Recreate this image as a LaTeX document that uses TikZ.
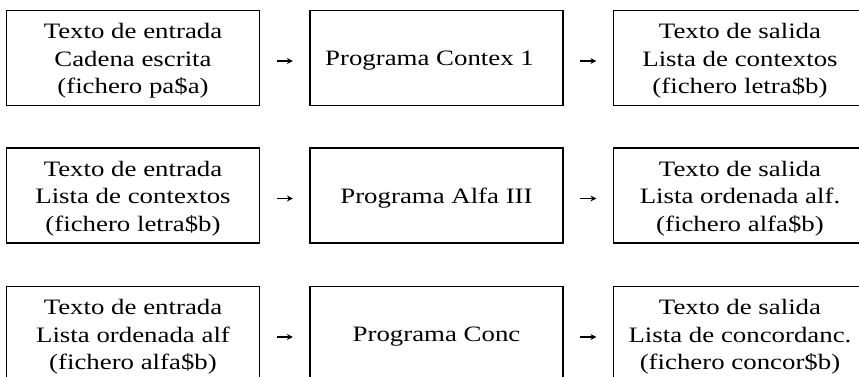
\documentclass[tikz,border=0pt]{standalone}
\usepackage{fontspec}
\setmainfont{Liberation Serif}[FakeStretch=1.22]
\usetikzlibrary{arrows.meta}
\begin{document}
\begin{tikzpicture}[x=1pt,y=1pt,
  box/.style={draw, line width=1.2pt, rectangle, inner sep=0pt,
    minimum width=253pt, minimum height=95pt,
    label={[txt]center:#1}},
  txt/.style={align=center, inner sep=0pt, yshift=-3pt,
    font=\fontsize{22}{27.5}\selectfont},
  flow/.style={-{Stealth[length=6pt,width=6pt]}, line width=1.5pt,
    shorten <=16.5pt, shorten >=16.5pt}]
\useasboundingbox (0,0) rectangle (859,376);
\clip (0,0) rectangle (859,376);
% row 1
\node[box={Texto de entrada\\Cadena escrita\\(fichero pa\$a)}] (a1) at (133,318) {};
\node[box={\hspace*{-14pt}Programa Contex 1}] (b1) at (436.5,318) {};
\node[box={Texto de salida\\Lista de contextos\\(fichero letra\$b)}] (c1) at (740,318) {};
% row 2
\node[box={Texto de entrada\\Lista de contextos\\(fichero letra\$b)}] (a2) at (133,180.5) {};
\node[box={Programa Alfa III}] (b2) at (436.5,180.5) {};
\node[box={Texto de salida\\Lista ordenada alf.\\(fichero alfa\$b)}] (c2) at (740,180.5) {};
% row 3
\node[box={Texto de entrada\\Lista ordenada alf\\(fichero alfa\$b)}] (a3) at (133,42) {};
\node[box={Programa Conc}] (b3) at (436.5,42) {};
\node[box={Texto de salida\\Lista de concordanc.\\(fichero concor\$b)}] (c3) at (740,42) {};
% arrows
\foreach \r in {1,2,3}{
  \draw[flow] ([yshift=-3pt]a\r.east) -- ([yshift=-3pt]b\r.west);
  \draw[flow] ([yshift=-3pt]b\r.east) -- ([yshift=-3pt]c\r.west);
}
\end{tikzpicture}
\end{document}
